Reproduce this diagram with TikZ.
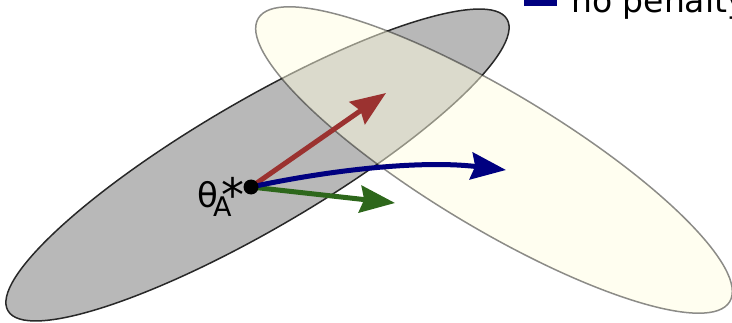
\documentclass[tikz,border=0pt]{standalone}
\usepackage{fontspec}
\setmainfont{DejaVu Sans}
\usetikzlibrary{arrows.meta}
\definecolor{grayfill}{RGB}{184,184,184}
\definecolor{grayline}{RGB}{40,40,40}
\definecolor{yelfill}{RGB}{255,253,225}
\definecolor{yelline}{RGB}{0,0,0}
\definecolor{redarr}{RGB}{155,50,48}
\definecolor{bluearr}{RGB}{0,0,128}
\definecolor{greenarr}{RGB}{45,103,27}
\tikzset{
  vec/.style={line width=5pt,-{Stealth[length=35pt,width=27pt,inset=4pt]}},
  dotnode/.style={circle,fill=black,minimum size=15pt,inner sep=0pt},
  lbl/.style={inner sep=0pt}
}
\begin{document}
\begin{tikzpicture}[x=1pt,y=1pt]
\useasboundingbox (0,0) rectangle (732,322);
\clip (0,0) rectangle (732,322);
% ellipses
\draw[fill=grayfill,draw=grayline,line width=1.5pt,rotate around={30.3:(257.5,157)}]
  (257.5,157) ellipse [x radius=289, y radius=64];
\draw[fill=yelfill,draw=yelline,fill opacity=0.5,draw opacity=0.45,line width=1.5pt,rotate around={-31:(494,162)}]
  (494,162) ellipse [x radius=275, y radius=68];
% legend
\fill[bluearr] (524,316) rectangle (557,350);
\node[lbl,anchor=base west,font=\fontsize{33}{40}\selectfont] (leg) at (571,309) {no penalty};
% vectors
\coordinate (o) at (251,135);
\coordinate (r) at (386,229);
\coordinate (g) at (395,119);
\coordinate (b) at (506,152);
\draw[vec,draw=redarr] (o) -- (r);
\draw[vec,draw=greenarr] (o) -- (g);
\draw[vec,draw=bluearr] (o) .. controls (330,152) and (420,162) .. (b);
\node[dotnode] (dot) at (o) {};
% label
\node[lbl,anchor=base west,font=\fontsize{34}{40}\selectfont] (th) at (197,115) {θ};
\node[lbl,anchor=base west,font=\fontsize{27}{32}\selectfont] (sub) at (213,106) {A};
\node[lbl,font=\fontsize{46}{48}\selectfont] (star) at (233,128) {*};
\end{tikzpicture}
\end{document}
